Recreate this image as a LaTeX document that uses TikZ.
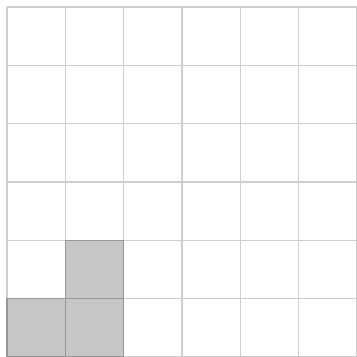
\documentclass[tikz,border=0pt]{standalone}
\usepackage{tikz}
\usetikzlibrary{calc,positioning}

\definecolor{gridgray}{RGB}{205,205,205}
\definecolor{cellgray}{RGB}{198,198,198}
\definecolor{celledge}{RGB}{150,150,150}
\tikzset{
  gridline/.style={gridgray,line width=0.6pt},
  filledcell/.style={fill=cellgray,draw=celledge,line width=0.6pt}
}

\begin{document}
\begin{tikzpicture}
  \useasboundingbox (-0.12,0) rectangle (6,6.12);
  \fill[white] (-0.12,0) rectangle (6,6.12);
  \draw[gridline] (0,0) grid (6,6);
  % shaded cells
  \foreach \x/\y in {0/0,1/0,1/1}{\draw[filledcell] (\x,\y) rectangle ++(1,1);}
\end{tikzpicture}
\end{document}
